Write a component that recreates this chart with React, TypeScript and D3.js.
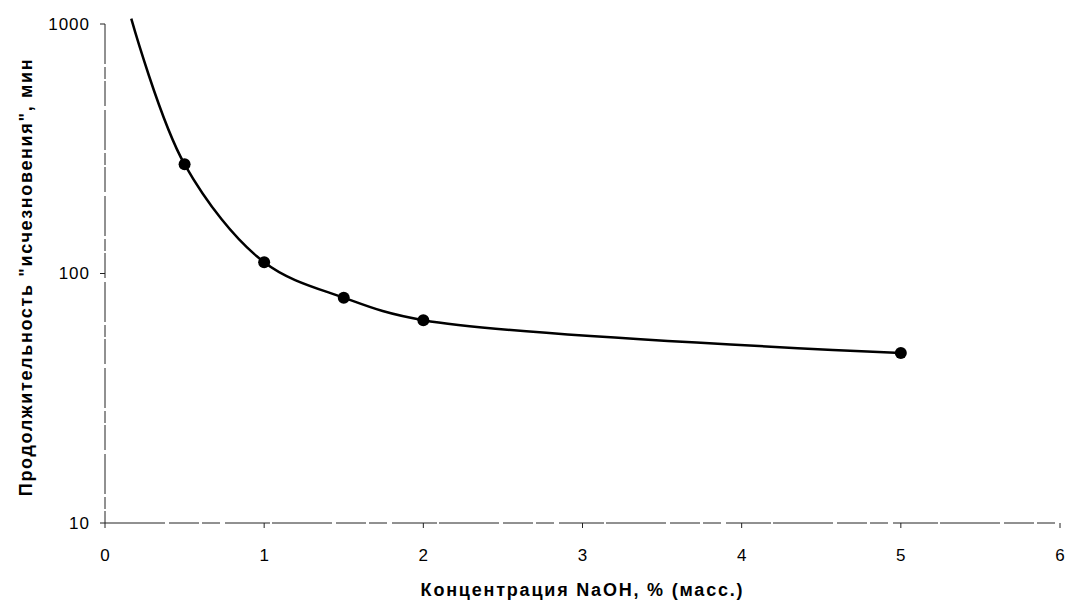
import React from "react";
import * as d3 from "d3";

const xTicks = [0, 1, 2, 3, 4, 5, 6];
const yTicks = [10, 100, 1000];
const markerX = [0.5, 1, 1.5, 2, 5];
const markerY = [274, 111, 80, 65, 48];
const curveX = [0.165, 0.5, 1, 1.5, 2, 5];
const curveY = [1050, 274, 111, 80, 65, 48];

const W = 1067;
const H = 603;
const left = 105;
const right = 1060;
const top = 24;
const bottom = 523;

export default function App() {
  const x = d3.scaleLinear().domain([0, 6]).range([left, right]);
  const y = d3.scaleLog().domain([10, 1000]).range([bottom, top]);
  const pts: [number, number][] = curveX.map((v, i) => [x(v), y(curveY[i])]);
  const line = d3.line().curve(d3.curveCatmullRom.alpha(0.5))(pts) || "";
  const font = "'Liberation Sans', Arial, sans-serif";
  return (
    <svg width={W} height={H} style={{ position: "absolute", left: 0, top: 0, background: "#fff" }}>
      <rect width={W} height={H} fill="#fff" />
      <line x1={left} y1={top} x2={left} y2={bottom} stroke="#222" strokeWidth={1} strokeDasharray="40 3 12 2 25 4" />
      <line x1={left} y1={bottom} x2={right} y2={bottom} stroke="#222" strokeWidth={1} strokeDasharray="60 4 30 3 18 5 45 2" />
      {yTicks.map((t) => (
        <g key={"y" + t}>
          <line x1={left - 5} x2={left} y1={y(t)} y2={y(t)} stroke="#222" />
          <text x={left - 15} y={y(t)} dy="0.35em" textAnchor="end" fontFamily={font} fontSize={17} letterSpacing={1} fill="#000">
            {t}
          </text>
        </g>
      ))}
      {xTicks.map((t) => (
        <g key={"x" + t}>
          <line x1={x(t)} x2={x(t)} y1={bottom} y2={bottom + 5} stroke="#222" />
          <text x={x(t)} y={bottom + 32} dy="0.35em" textAnchor="middle" fontFamily={font} fontSize={17} fill="#000">
            {t}
          </text>
        </g>
      ))}
      <path d={line} fill="none" stroke="#000" strokeWidth={2.5} />
      {markerX.map((v, i) => (
        <circle key={"m" + i} cx={x(v)} cy={y(markerY[i])} r={6} fill="#000" />
      ))}
      <text
        x={(left + right) / 2}
        y={590}
        textAnchor="middle"
        dy="0.35em"
        fontFamily={font}
        fontSize={18}
        letterSpacing={1.8}
        fontWeight="bold"
        fill="#000"
      >
        Концентрация NaOH, % (масс.)
      </text>
      <text
        transform={`translate(26, 277) rotate(-90)`}
        textAnchor="middle"
        dy="0.35em"
        fontFamily={font}
        fontSize={18}
        letterSpacing={1.65}
        fontWeight="bold"
        fill="#000"
      >
        Продолжительность "исчезновения", мин
      </text>
    </svg>
  );
}
